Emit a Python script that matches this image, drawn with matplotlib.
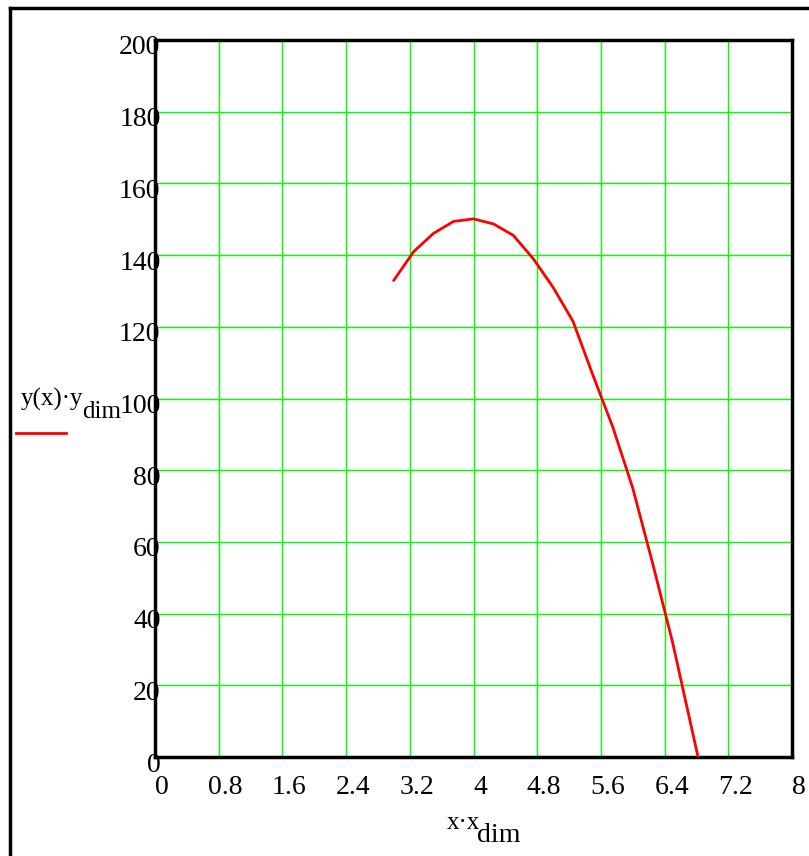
import matplotlib
matplotlib.use('Agg')
import matplotlib.pyplot as plt
import matplotlib.transforms as mtransforms
from matplotlib.lines import Line2D

# curve
x_vals = [3.00, 3.25, 3.50, 3.75, 4.00, 4.25, 4.50, 4.75, 5.00, 5.25,
          5.50, 5.75, 6.00, 6.25, 6.50, 6.75, 6.82]
y_vals = [133.0, 141.0, 146.1, 149.4, 150.1, 148.7, 145.5, 139.0, 131.0, 121.5,
          106.5, 92.0, 75.0, 54.0, 32.0, 7.0, 0.0]
x_ticks = [0, 0.8, 1.6, 2.4, 3.2, 4, 4.8, 5.6, 6.4, 7.2, 8]
x_tick_labels = ['0', '0.8', '1.6', '2.4', '3.2', '4', '4.8', '5.6', '6.4', '7.2', '8']
y_ticks = [0, 20, 40, 60, 80, 100, 120, 140, 160, 180, 200]

plt.rcParams['font.family'] = ['Liberation Serif', 'DejaVu Serif']

W, H = 809, 856
fig = plt.figure(figsize=(W / 100, H / 100), dpi=100)
# axes box in pixels: left 155, right 792, top 40, bottom 757
ax = fig.add_axes([155 / W, 1 - 757 / H, (792 - 155) / W, (757 - 40) / H])

ax.plot(x_vals, y_vals, color='red', lw=2, zorder=3)

ax.set_xlim(0, 8)
ax.set_ylim(0, 200)
ax.set_xticks(x_ticks)
ax.set_xticklabels(x_tick_labels)
ax.set_yticks(y_ticks)
ax.tick_params(axis='both', length=0, labelsize=20)
ax.tick_params(axis='x', pad=13)
ax.tick_params(axis='y', pad=-4)
ax.grid(True, color='#00ff00', lw=1)
ax.set_axisbelow(True)
for s in ax.spines.values():
    s.set_linewidth(2.5)
    s.set_color('black')

# mathcad puts labels slightly off the ticks
off_x = mtransforms.ScaledTranslation(7 / 100, 0, fig.dpi_scale_trans)
for lab in ax.get_xticklabels():
    lab.set_transform(lab.get_transform() + off_x)
off_y = mtransforms.ScaledTranslation(0, -5 / 100, fig.dpi_scale_trans)
for lab in ax.get_yticklabels():
    lab.set_transform(lab.get_transform() + off_y)

# outer frame (runs off the right and bottom edges)
fig.add_artist(Line2D([10 / W, 10 / W], [0, 1 - 8 / H], color='black', lw=2.5,
                      transform=fig.transFigure))
fig.add_artist(Line2D([10 / W, 1], [1 - 8 / H, 1 - 8 / H], color='black', lw=2.5,
                      transform=fig.transFigure))

# trace label
fig.text(21 / W, 1 - 406 / H, 'y(x)\u00b7y', fontsize=18, ha='left', va='baseline')
fig.text(82 / W, 1 - 418 / H, 'dim', fontsize=18, ha='left', va='baseline')
fig.add_artist(Line2D([16 / W, 66 / W], [1 - 433 / H, 1 - 433 / H], color='red', lw=2,
                      transform=fig.transFigure))

# x axis label
fig.text(447 / W, 1 - 829 / H, 'x\u00b7x', fontsize=18, ha='left', va='baseline')
fig.text(477 / W, 1 - 842 / H, 'dim', fontsize=20, ha='left', va='baseline')

fig.savefig('out.png', dpi=100)
